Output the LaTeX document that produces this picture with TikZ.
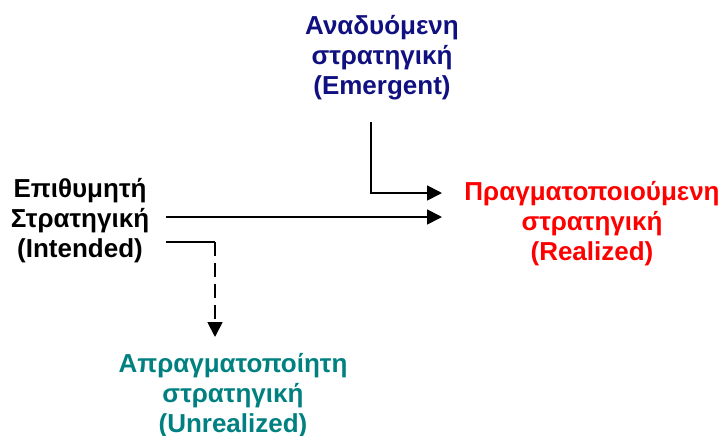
\documentclass[tikz,border=0pt]{standalone}
\usepackage{fontspec}
\setmainfont{Liberation Sans}
\usetikzlibrary{arrows.meta}

\definecolor{azulEmerg}{RGB}{16,16,128}
\definecolor{vermReal}{RGB}{255,0,0}
\definecolor{verdeUnreal}{RGB}{0,128,128}

\tikzset{
  rotulo/.style={align=center, inner sep=0pt, font=\fontsize{26}{30}\selectfont\bfseries},
  seta/.style={line width=1.8pt, -{Triangle[length=15pt,width=15pt]}},
  tracejada/.style={seta, dash pattern=on 14pt off 7pt}
}

\begin{document}
\begin{tikzpicture}[x=1pt, y=-1pt]
    \useasboundingbox (0,0) rectangle (728,436);

    % Estrategias (textos)
    \node[rotulo, text=azulEmerg] (emergent) at (382,58) {Αναδυόμενη\\στρατηγική\\(Emergent)};
    \node[rotulo] (intended) at (80,221) {Επιθυμητή\\Στρατηγική\\(Intended)};
    \node[rotulo, text=vermReal] (realized) at (592,224) {Πραγματοποιούμενη\\στρατηγική\\(Realized)};
    \node[rotulo, text=verdeUnreal] (unrealized) at (233,396) {Απραγματοποίητη\\στρατηγική\\(Unrealized)};

    % Pontos das setas
    \coordinate (emTopo) at (371,122);
    \coordinate (emCanto) at (371,193);
    \coordinate (emFim) at (442,193);
    \coordinate (inInicio) at (166,217);
    \coordinate (reFim) at (442,217);
    \coordinate (unInicio) at (166,242);
    \coordinate (unCanto) at (215,242);
    \coordinate (unFim) at (215,337);

    % Setas
    \draw[seta] (emTopo) -- (emCanto) -- (emFim);
    \draw[seta] (inInicio) -- (reFim);
    \draw[line width=1.8pt] (unInicio) -- (unCanto);
    \draw[tracejada] (unCanto) -- (unFim);
\end{tikzpicture}
\end{document}
